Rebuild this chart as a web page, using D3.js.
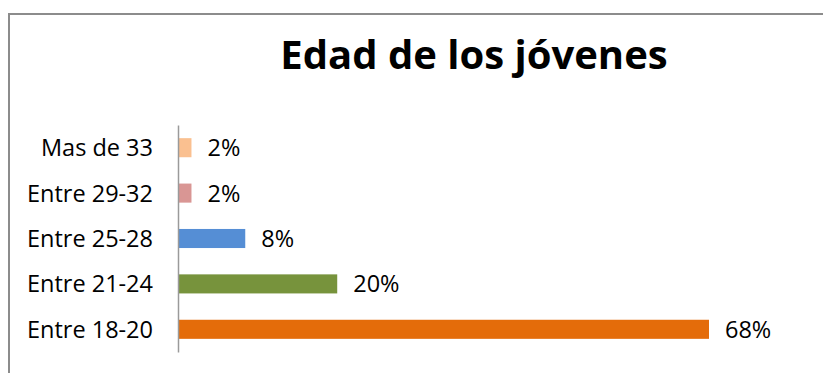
<!DOCTYPE html>
<html>
<head>
<meta charset="utf-8">
<script src="https://cdn.jsdelivr.net/npm/d3@7"></script>
<style>
  html, body { margin: 0; padding: 0; background: #fff; }
  svg { display: block; }
  text { font-family: "Open Sans", sans-serif; fill: #000; }
</style>
</head>
<body>
<div id="chart"></div>
<script>
// Data (top to bottom as drawn)
const categories = ["Mas de 33", "Entre 29-32", "Entre 25-28", "Entre 21-24", "Entre 18-20"];
const values = [1.6, 1.6, 8.5, 20.3, 68];
const labels = ["2%", "2%", "8%", "20%", "68%"];
const colors = ["#fac090", "#d99694", "#558ed5", "#77933c", "#e46c0a"];

const width = 823, height = 373;

const svg = d3.select('#chart').append('svg')
  .attr('width', width)
  .attr('height', height);

// chart frame (extends past the right/bottom of the picture)
svg.append('rect')
  .attr('x', 9).attr('y', 14)
  .attr('width', width + 20).attr('height', height + 20)
  .attr('fill', 'none')
  .attr('stroke', '#8c8c8c')
  .attr('stroke-width', 2);

// title
svg.append('text')
  .attr('x', 474)
  .attr('y', 69)
  .attr('text-anchor', 'middle')
  .style('font-size', '40px')
  .style('font-weight', 'bold')
  .text('Edad de los jóvenes');

const x = d3.scaleLinear()
  .domain([0, d3.max(values)])
  .range([179, 709]);

const y = d3.scaleBand()
  .domain(categories)
  .range([125, 352])
  .paddingInner(0.58)
  .paddingOuter(0.29);

// bars
svg.append('g')
  .selectAll('rect')
  .data(categories)
  .join('rect')
  .attr('x', x(0))
  .attr('y', d => y(d))
  .attr('width', (d, i) => x(values[i]) - x(0))
  .attr('height', y.bandwidth())
  .attr('fill', (d, i) => colors[i]);

// value labels
svg.append('g')
  .selectAll('text')
  .data(categories)
  .join('text')
  .attr('x', (d, i) => x(values[i]) + 16)
  .attr('y', d => y(d) + y.bandwidth() / 2)
  .attr('dy', '0.36em')
  .style('font-size', '23.5px')
  .text((d, i) => labels[i]);

// category axis
const axis = svg.append('g')
  .attr('transform', `translate(${x(0) - 1},0)`)
  .call(d3.axisLeft(y).tickSize(0).tickPadding(25));
axis.attr('font-family', null).attr('font-size', null);
axis.select('.domain')
  .attr('stroke', '#9a9a9a')
  .attr('stroke-width', 1.5);
axis.selectAll('text')
  .style('font-size', '23.5px')
  .attr('dy', '0.36em');
</script>
</body>
</html>
